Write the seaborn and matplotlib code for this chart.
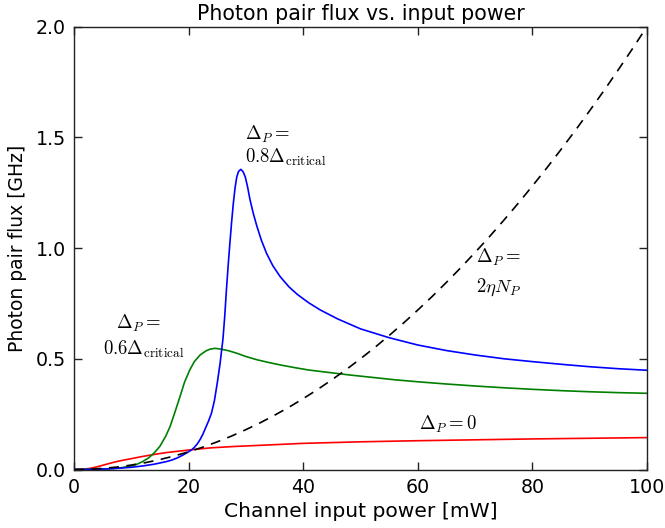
import matplotlib
matplotlib.use("Agg")
import matplotlib.pyplot as plt
import pandas as pd
import seaborn as sns

# Pair flux curves for several pump detunings (power in mW, flux in GHz)
blue_power = [0, 2, 4, 6, 8, 10, 12, 14, 16, 17, 18, 19, 20, 20.5, 21, 21.5, 22,
              22.5, 23, 23.5, 24, 24.5, 25, 25.5, 26, 26.3, 26.6, 26.9, 27.2,
              27.5, 27.8, 28.1, 28.4, 28.7, 29.1, 29.5, 29.9, 30.3, 30.7, 31.3,
              31.9, 32.7, 33.6, 34.7, 36, 37.5, 39, 41, 43, 46, 50, 55, 60, 65,
              70, 75, 80, 85, 90, 95, 100]
blue_flux = [0, 0.0005, 0.001, 0.003, 0.006, 0.01, 0.016, 0.024, 0.035, 0.042,
             0.052, 0.065, 0.08, 0.088, 0.1, 0.115, 0.135, 0.16, 0.19, 0.22,
             0.255, 0.31, 0.39, 0.48, 0.59, 0.69, 0.81, 0.92, 1.02, 1.115, 1.20,
             1.27, 1.32, 1.345, 1.355, 1.345, 1.32, 1.275, 1.22, 1.155, 1.10,
             1.035, 0.976, 0.92, 0.87, 0.825, 0.79, 0.752, 0.72, 0.68, 0.635,
             0.595, 0.562, 0.537, 0.517, 0.5, 0.487, 0.475, 0.464, 0.455, 0.448]

green_power = [0, 2, 4, 6, 8, 10, 11, 12, 13, 14, 15, 16, 16.75, 17.5, 18.5,
               19.3, 20.2, 21, 22, 23, 23.7, 24.6, 25.5, 27, 28.4, 30, 32, 34,
               36, 38.5, 41, 44.5, 48, 52, 56, 60, 65, 70, 75, 80, 85, 90, 95,
               100]
green_flux = [0, 0.0005, 0.001, 0.003, 0.007, 0.016, 0.024, 0.036, 0.052, 0.075,
              0.105, 0.15, 0.193, 0.25, 0.329, 0.395, 0.449, 0.487, 0.517, 0.535,
              0.543, 0.547, 0.544, 0.536, 0.525, 0.51, 0.495, 0.483, 0.472, 0.46,
              0.449, 0.438, 0.427, 0.416, 0.405, 0.396, 0.386, 0.377, 0.369,
              0.362, 0.356, 0.351, 0.347, 0.344]

red_power = [0, 1, 2, 3, 4, 5, 6, 7, 8, 9, 10, 12, 14, 16, 18, 20, 24, 28, 34,
             40, 50, 60, 70, 80, 90, 100]
red_flux = [0, 0.0005, 0.002, 0.006, 0.012, 0.019, 0.026, 0.033, 0.039, 0.044,
            0.049, 0.059, 0.068, 0.076, 0.082, 0.088, 0.098, 0.104, 0.111, 0.118,
            0.125, 0.130, 0.134, 0.138, 0.141, 0.144]

dash_power = [0, 2.5, 5, 7.5, 10, 12.5, 15, 17.5, 20, 22.5, 25, 27.5, 30, 32.5,
              35, 37.5, 40, 42.5, 45, 47.5, 50, 52.5, 55, 57.5, 60, 62.5, 65,
              67.5, 70, 72.5, 75, 77.5, 80, 82.5, 85, 87.5, 90, 92.5, 95, 97.5,
              100]
dash_flux = [0, 0.001, 0.005, 0.011, 0.02, 0.031, 0.045, 0.061, 0.08, 0.101,
             0.125, 0.151, 0.18, 0.211, 0.245, 0.281, 0.32, 0.361, 0.405, 0.451,
             0.50, 0.551, 0.605, 0.661, 0.72, 0.781, 0.845, 0.911, 0.98, 1.051,
             1.125, 1.201, 1.28, 1.361, 1.445, 1.531, 1.62, 1.711, 1.805, 1.901,
             2.0]

x_ticks = [0, 20, 40, 60, 80, 100]
y_ticks = [0.0, 0.5, 1.0, 1.5, 2.0]

plt.rcParams.update({
    "font.family": ["DejaVu Sans"],
    "mathtext.fontset": "cm",
    "text.color": "black",
    "axes.labelcolor": "black",
    "axes.edgecolor": "#222222",
    "axes.linewidth": 1.0,
    "axes.facecolor": "white",
    "figure.facecolor": "white",
    "axes.grid": False,
    "xtick.direction": "in",
    "ytick.direction": "in",
    "xtick.top": True,
    "xtick.bottom": True,
    "ytick.left": True,
    "ytick.right": True,
    "xtick.major.size": 6,
    "ytick.major.size": 6,
    "xtick.major.width": 1.0,
    "ytick.major.width": 1.0,
    "xtick.color": "#222222",
    "ytick.color": "#222222",
})

fig = plt.figure(figsize=(6.65, 5.28), dpi=100)
ax = fig.add_axes([74 / 665, 1 - 469.5 / 528, 573 / 665, 443 / 528])

series = [
    (red_power, red_flux, "#ff0000"),
    (green_power, green_flux, "#008000"),
    (blue_power, blue_flux, "#0000ff"),
]
for px, fy, col in series:
    df = pd.DataFrame({"power": px, "flux": fy})
    sns.lineplot(data=df, x="power", y="flux", color=col, lw=1.2, ax=ax,
                 sort=False, estimator=None)

df_dash = pd.DataFrame({"power": dash_power, "flux": dash_flux})
sns.lineplot(data=df_dash, x="power", y="flux", color="black", lw=1.2, ax=ax,
             sort=False, estimator=None)
ax.lines[-1].set_dashes((6, 4.5))

ax.set_xlim(0, 100)
ax.set_ylim(0, 2.0)
ax.set_xticks(x_ticks)
ax.set_yticks(y_ticks)
ax.set_xticklabels([str(t) for t in x_ticks])
ax.set_yticklabels([f"{t:.1f}" for t in y_ticks])
ax.xaxis.set_ticks_position("both")
ax.yaxis.set_ticks_position("both")
ax.tick_params(axis="both", which="major", direction="in", length=6, width=1.0,
               color="#222222", labelcolor="black", labelsize=13.7, pad=6)

ax.set_xlabel("Channel input power [mW]", fontsize=14.6, labelpad=4)
ax.set_ylabel("Photon pair flux [GHz]", fontsize=13.5, labelpad=6)
ax.set_title("Photon pair flux vs. input power", fontsize=14.8, pad=5)

ann = 13.5
ax.text(29.8, 1.49, r"$\Delta_P =$", fontsize=ann, ha="left", va="baseline")
ax.text(29.8, 1.383, r"$0.8\Delta_{\rm critical}$", fontsize=ann, ha="left", va="baseline")
ax.text(7.3, 0.633, r"$\Delta_P =$", fontsize=ann, ha="left", va="baseline")
ax.text(5.0, 0.517, r"$0.6\Delta_{\rm critical}$", fontsize=ann, ha="left", va="baseline")
ax.text(70.2, 0.931, r"$\Delta_P =$", fontsize=ann, ha="left", va="baseline")
ax.text(70.2, 0.803, r"$2\eta N_P$", fontsize=ann, ha="left", va="baseline")
ax.text(60.2, 0.178, r"$\Delta_P = 0$", fontsize=ann, ha="left", va="baseline")

fig.savefig("out.png", dpi=100)
